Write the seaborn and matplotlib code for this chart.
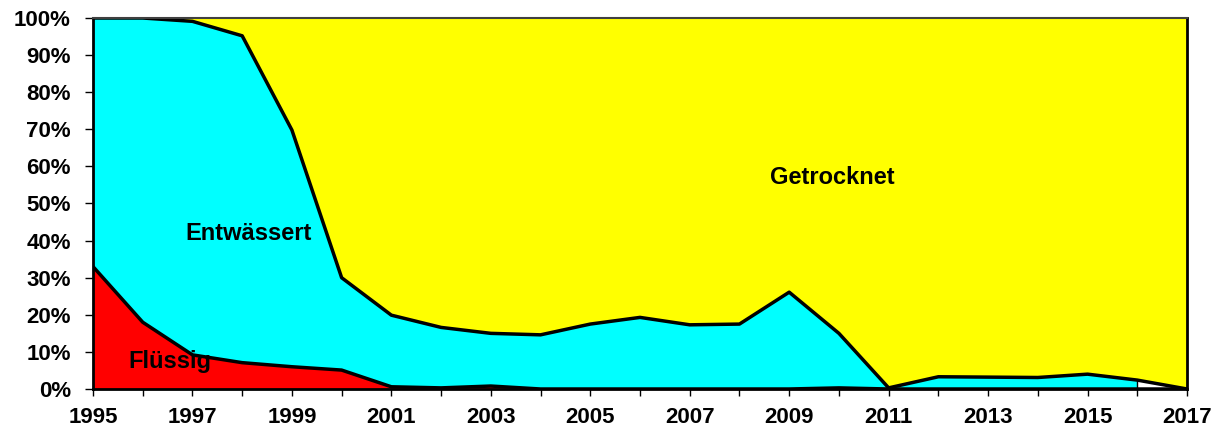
import numpy as np
import pandas as pd
import matplotlib
matplotlib.use("Agg")
import matplotlib.pyplot as plt
import seaborn as sns

# Anteile je Jahr in Prozent
years = list(range(1995, 2018))
fluessig = [33.0, 18.0, 9.2, 7.1, 6.0, 5.1, 0.6, 0.3, 0.8, 0.0, 0.0, 0.0,
            0.0, 0.0, 0.0, 0.3, 0.0, 0.0, 0.0, 0.0, 0.0, 0.0, 0.0]
# obere Kante von "Entwässert" (kumuliert); 2017 fehlt der Wert
entw_top = [100.0, 100.0, 99.1, 95.2, 69.8, 30.0, 19.9, 16.6, 15.0, 14.6, 17.5, 19.3,
            17.3, 17.5, 26.1, 15.0, 0.3, 3.3, 3.2, 3.1, 4.0, 2.4, np.nan]
getr_bottom = [100.0, 100.0, 99.1, 95.2, 69.8, 30.0, 19.9, 16.6, 15.0, 14.6, 17.5, 19.3,
               17.3, 17.5, 26.1, 15.0, 0.3, 3.3, 3.2, 3.1, 4.0, 2.4, 0.0]
labels = ["Flüssig", "Entwässert", "Getrocknet"]
colors = ["#ff0000", "#00ffff", "#ffff00"]

df = pd.DataFrame({"Jahr": years, "Flüssig": fluessig,
                   "Entwässert": entw_top, "Getrocknet": getr_bottom})

sns.set_style("ticks")
plt.rcParams["font.family"] = ["Liberation Sans", "DejaVu Sans"]
plt.rcParams["text.color"] = "black"

fig = plt.figure(figsize=(12.17, 4.29), dpi=100)
ax = fig.add_axes([93 / 1217, 40 / 429, 1094 / 1217, 371 / 429])

x = df["Jahr"].values
ax.fill_between(x, 0, df["Flüssig"], color=colors[0], lw=0)
ax.fill_between(x, df["Flüssig"], df["Entwässert"], color=colors[1], lw=0)
ax.fill_between(x, df["Getrocknet"], 100, color=colors[2], lw=0)

# Grenzlinien
sns.lineplot(data=df, x="Jahr", y="Flüssig", color="black", lw=2.5, ax=ax)
sns.lineplot(data=df, x="Jahr", y="Getrocknet", color="black", lw=2.5, ax=ax)
ax.plot([2016, 2016], [0, entw_top[-2]], color="black", lw=1)

ax.set_xlim(1995, 2017)
ax.set_ylim(0, 100)
ax.set_xlabel("")
ax.set_ylabel("")

ax.set_xticks(years, minor=True)
ax.set_xticks(range(1995, 2018, 2))
ax.set_xticklabels([str(y) for y in range(1995, 2018, 2)], fontsize=16, fontweight="bold")
ax.set_yticks(range(0, 101, 10))
ax.set_yticklabels([f"{v}%" for v in range(0, 101, 10)], fontsize=16, fontweight="bold")
ax.tick_params(axis="y", length=6, width=1, pad=10, color="black", labelcolor="black")
ax.tick_params(axis="x", which="both", length=5, width=1, pad=8, color="black", labelcolor="black")
ax.tick_params(axis="x", which="minor", labelbottom=False)

for side in ["left", "bottom", "right"]:
    ax.spines[side].set_color("black")
    ax.spines[side].set_linewidth(2)
ax.spines["top"].set_color("#404040")
ax.spines["top"].set_linewidth(1.5)
for s in ax.spines.values():
    s.set_visible(True)

ax.text(1996.55, 7.3, "Flüssig", fontsize=17, fontweight="bold", color="black", ha="center", va="center")
ax.text(1998.12, 41.8, "Entwässert", fontsize=17, fontweight="bold", color="black", ha="center", va="center")
ax.text(2009.86, 56.9, "Getrocknet", fontsize=17, fontweight="bold", color="black", ha="center", va="center")

fig.savefig("out.png", dpi=100)
